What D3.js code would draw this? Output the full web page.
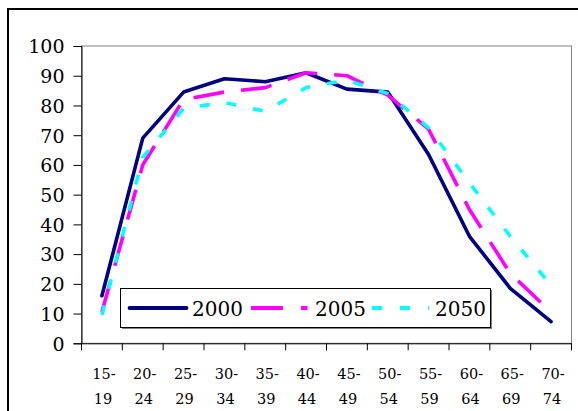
<!DOCTYPE html>
<html><head><meta charset="utf-8">
<script src="https://cdn.jsdelivr.net/npm/d3@7/dist/d3.min.js"></script>
<style>body{margin:0;background:#fff}svg{display:block}</style>
</head><body><svg id="c" width="578" height="411"></svg>
<script>
const categories = ["15-19","20-24","25-29","30-34","35-39","40-44","45-49","50-54","55-59","60-64","65-69","70-74"];
const v2000 = [16, 69, 84.5, 89, 88, 91, 85.5, 84.5, 63.5, 36, 18.5, 7.3];
const v2005 = [10.5, 60, 82, 84.5, 86, 91, 90, 83.5, 72, 45, 23.5, 10.5];
const v2050 = [9.5, 62.5, 79, 81, 78, 86, 88.5, 84, 72.5, 54, 36, 19.5];
const seriesNames = ["2000","2005","2050"];
const yTicks = [0,10,20,30,40,50,60,70,80,90,100];

const FONT = "DejaVu Serif";

const series = [
  {name: seriesNames[0], values: v2000, color: "#000080", dash: null, cap: "round"},
  {name: seriesNames[1], values: v2005, color: "#FF00FF", dash: "31,17", cap: "butt"},
  {name: seriesNames[2], values: v2050, color: "#00FFFF", dash: "10,17", cap: "butt"}
];

const svg = d3.select("#c");
const L = 81.5, R = 571.5, T = 46, B = 343.3;

svg.append("rect").attr("x",8).attr("y",9).attr("width",600).attr("height",500)
  .attr("fill","none").attr("stroke","#000").attr("stroke-width",2);

const x = d3.scaleBand().domain(categories).range([L, R]).padding(0);
const y = d3.scaleLinear().domain([0,100]).range([B, T]);

svg.append("rect").attr("x",L).attr("y",T).attr("width",R-L).attr("height",B-T)
  .attr("fill","none").attr("stroke","#808080").attr("stroke-width",1);

const ya = svg.append("g").attr("transform",`translate(${L},0)`)
  .call(d3.axisLeft(y).tickValues(yTicks).tickSize(8).tickPadding(9));
ya.attr("font-family",FONT).attr("font-size",19);
ya.select(".domain").attr("stroke","#000");
ya.selectAll(".tick line").attr("stroke","#000");
ya.selectAll(".tick text").attr("fill","#000").attr("dy","0.36em");

const xa = svg.append("g").attr("transform",`translate(0,${B})`)
  .call(d3.axisBottom(x).tickSize(0).tickFormat(""));
xa.select(".domain").attr("stroke","#000");
const edges = categories.map(c => x(c)).concat([R]);
xa.selectAll(".edge").data(edges).enter().append("line")
  .attr("x1",d=>d).attr("x2",d=>d).attr("y1",0).attr("y2",7).attr("stroke","#000");
const lab = svg.append("g").attr("font-family",FONT).attr("font-size",14.5);
categories.forEach(c => {
  const [a,b] = c.split("-");
  const cx = x(c) + x.bandwidth()/2;
  lab.append("text").attr("x",cx+2).attr("y",379).attr("text-anchor","middle").text(a+"-");
  lab.append("text").attr("x",cx+1).attr("y",404).attr("text-anchor","middle").text(b);
});

const line = d3.line().x((d,i)=>x(categories[i])+x.bandwidth()/2).y(d=>y(d));
series.forEach(s => {
  svg.append("path").datum(s.values).attr("d",line).attr("fill","none")
    .attr("stroke",s.color).attr("stroke-width",3.6).attr("stroke-linejoin","round")
    .attr("stroke-linecap",s.cap).attr("stroke-dasharray",s.dash);
});

const lg = svg.append("g").attr("font-family",FONT).attr("font-size",20);
lg.append("rect").attr("x",122).attr("y",290).attr("width",370).attr("height",39).attr("fill","#808080");
lg.append("rect").attr("x",120.5).attr("y",288.5).attr("width",370).attr("height",39)
  .attr("fill","#fff").attr("stroke","#000").attr("stroke-width",1);
const legPos = [{x1:129.5,x2:186.5,tx:192},{x1:251,x2:307.5,tx:315},{x1:372,x2:429,tx:435}];
series.forEach((s,i) => {
  const p = legPos[i];
  lg.append("line").attr("x1",p.x1).attr("x2",p.x2).attr("y1",308).attr("y2",308)
    .attr("stroke",s.color).attr("stroke-width",3.8).attr("stroke-linecap",s.cap)
    .attr("stroke-dasharray", i===1 ? "32,18" : (i===2 ? "10,18" : null));
  lg.append("text").attr("x",p.tx).attr("y",316).text(s.name);
});
</script></body></html>
